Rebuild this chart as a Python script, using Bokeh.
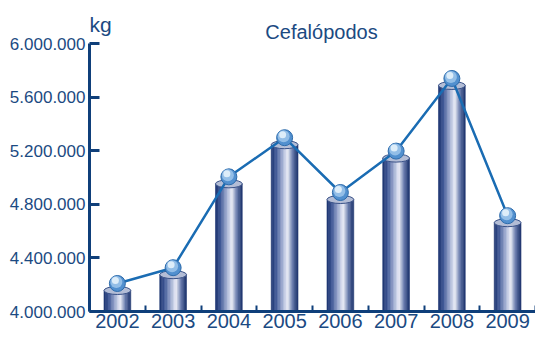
from bokeh.plotting import figure
from bokeh.models import FixedTicker, Label
from bokeh.embed import file_html
from bokeh.resources import INLINE

# ---- data ----
years = ["2002", "2003", "2004", "2005", "2006", "2007", "2008", "2009"]
values_kg = [4209000, 4327000, 5005000, 5297000, 4888000, 5197000, 5739000, 4715000]
y_ticks = [4000000, 4400000, 4800000, 5200000, 5600000, 6000000]
y_tick_labels = ["4.000.000", "4.400.000", "4.800.000", "5.200.000", "5.600.000", "6.000.000"]
title_text = "Cefalópodos"
unit_text = "kg"

# ---- layout ----
W, H = 535, 335
BL, BR, BT, BB = 89, 0, 0, 24
TOP_GAP = 43                        # px between frame top and the top tick
y0, y1 = y_ticks[0], y_ticks[-1]
frame_h = H - BT - BB
frame_w = W - BL - BR
px_y = (frame_h - TOP_GAP) / (y1 - y0)   # pixels per kg
px_x = frame_w / len(years)               # pixels per category
y_top = y1 + TOP_GAP / px_y

NAVY = "#0f3f7a"
TEXT = "#1b4a82"

p = figure(width=W, height=H, x_range=(0, len(years)), y_range=(y0, y_top),
           output_backend="svg", toolbar_location=None,
           min_border_left=BL, min_border_right=BR,
           min_border_top=BT, min_border_bottom=BB)
p.grid.visible = False
p.outline_line_color = None
p.background_fill_color = "white"

xs = [i + 0.5 for i in range(len(years))]
bar_w = 0.48
bar_top = [v - 7 / px_y for v in values_kg]


def lerp_color(t):
    stops = [(0.0, (26, 50, 110)), (0.2, (66, 90, 152)), (0.45, (168, 180, 214)),
             (0.62, (238, 240, 248)), (0.8, (106, 125, 174)), (1.0, (26, 48, 106))]
    for (t0, c0), (t1, c1) in zip(stops[:-1], stops[1:]):
        if t0 <= t <= t1:
            f = (t - t0) / (t1 - t0)
            c = [round(a + (b - a) * f) for a, b in zip(c0, c1)]
            return "#%02x%02x%02x" % tuple(c)
    return "#1c346c"


N = 18
for k in range(N):
    t = (k + 0.5) / N
    off = -bar_w / 2 + (k + 0.5) * bar_w / N
    col = lerp_color(t)
    p.vbar(x=[x + off for x in xs], width=bar_w / N, bottom=y0, top=bar_top,
           fill_color=col, line_color=col, line_width=0.6)

# cylinder tops
p.ellipse(x=xs, y=bar_top, width=bar_w, height=8, height_units="screen",
          fill_color="#b3bdd6", line_color="#3a5288", line_width=1)

# line
p.line(xs, values_kg, line_color="#1a6cb3", line_width=2.5)

# balls
p.scatter(xs, values_kg, size=16, fill_color="#5290cf", line_color="#2d6bab", line_width=1)
p.scatter([x - 1 / px_x for x in xs], [v + 1.5 / px_y for v in values_kg], size=12,
          fill_color="#93bee7", line_color=None)
p.scatter([x - 2 / px_x for x in xs], [v + 3 / px_y for v in values_kg], size=7,
          fill_color="#ddedf9", line_color=None)

# x axis
xa = p.xaxis[0]
xa.ticker = FixedTicker(ticks=xs, minor_ticks=list(range(len(years) + 1)))
xa.major_label_overrides = {x: y for x, y in zip(xs, years)}
xa.major_tick_in = 0
xa.major_tick_out = 0
xa.minor_tick_in = 6
xa.minor_tick_out = 0
xa.minor_tick_line_color = NAVY
xa.minor_tick_line_width = 2
xa.axis_line_color = NAVY
xa.axis_line_width = 3
xa.major_label_text_font = "Liberation Sans"
xa.major_label_text_font_size = "20px"
xa.major_label_text_color = TEXT
xa.major_label_standoff = 2

# y axis
ya = p.yaxis[0]
ya.ticker = FixedTicker(ticks=y_ticks)
ya.bounds = (y0, y1)
ya.major_label_overrides = {t: s for t, s in zip(y_ticks, y_tick_labels)}
ya.major_tick_in = 10
ya.major_tick_out = 0
ya.major_tick_line_color = NAVY
ya.major_tick_line_width = 3
ya.minor_tick_line_color = None
ya.axis_line_color = NAVY
ya.axis_line_width = 3
ya.major_label_text_font = "Liberation Sans"
ya.major_label_text_font_size = "17px"
ya.major_label_text_color = TEXT
ya.major_label_standoff = 4

p.add_layout(Label(x=0, y=y1 + 19 / px_y, text=unit_text,
                   text_font="Liberation Sans", text_font_size="21px", text_color=TEXT,
                   text_baseline="alphabetic"))
p.add_layout(Label(x=232, y=y1 + 12 / px_y, x_units="screen", text=title_text,
                   text_font="Liberation Sans", text_font_size="20px", text_color=TEXT,
                   text_align="center", text_baseline="alphabetic"))

open("out.html", "w").write(file_html(p, INLINE))
